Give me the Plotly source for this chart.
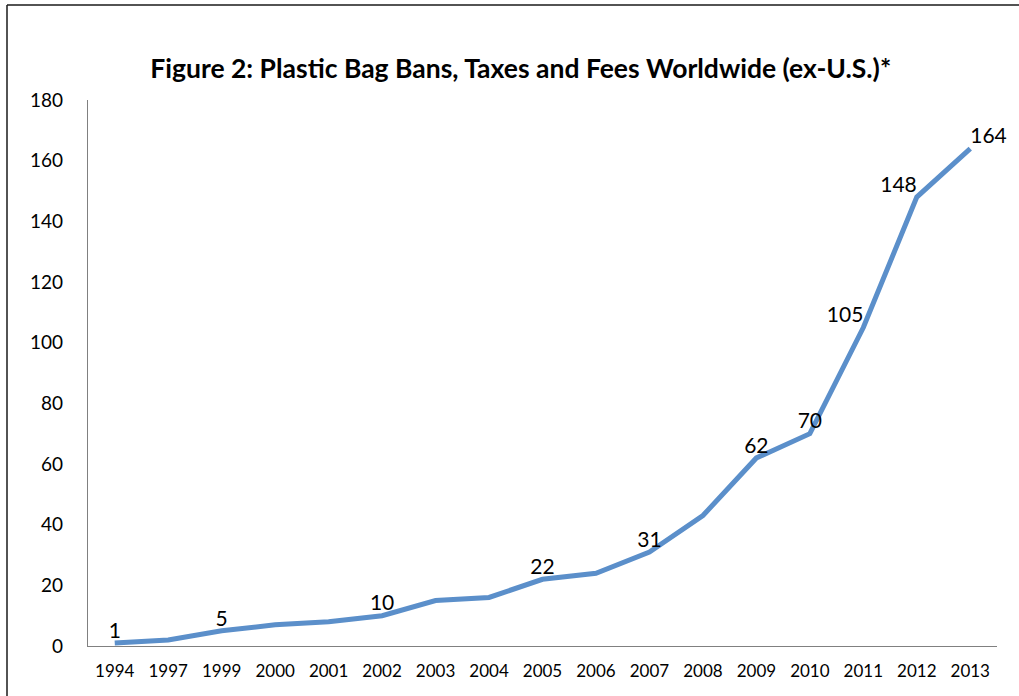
import plotly.graph_objects as go

years = ["1994", "1997", "1999", "2000", "2001", "2002", "2003", "2004", "2005",
         "2006", "2007", "2008", "2009", "2010", "2011", "2012", "2013"]
counts = [1, 2, 5, 7, 8, 10, 15, 16, 22, 24, 31, 43, 62, 70, 105, 148, 164]
labeled_years = ["1994", "1999", "2002", "2005", "2007", "2009", "2010", "2011", "2012", "2013"]
label_pos = {"2011": "top left", "2012": "top left", "2013": "top right"}

texts = [str(v) if y in labeled_years else "" for y, v in zip(years, counts)]
positions = [label_pos.get(y, "top center") for y in years]

FONT = "Lato"
W, H = 1019, 696
L, R, T, B = 88, 22, 100, 50
pw, ph = W - L - R, H - T - B

fig = go.Figure()
fig.add_trace(go.Scatter(
    x=years, y=counts, mode="lines+text",
    line=dict(color="#5B8FCA", width=5),
    text=texts, textposition=positions,
    textfont=dict(family=FONT, size=21, color="#000000"),
    cliponaxis=False, hoverinfo="x+y", showlegend=False,
))

def px_x(p):
    return (p - L) / pw

def px_y(p):
    return (H - B - p) / ph

fig.add_shape(type="line", xref="paper", yref="paper",
              x0=px_x(7), x1=px_x(1030), y0=px_y(5), y1=px_y(5),
              line=dict(color="#1a1a1a", width=1.5))
fig.add_shape(type="line", xref="paper", yref="paper",
              x0=px_x(7), x1=px_x(7), y0=px_y(5), y1=px_y(710),
              line=dict(color="#1a1a1a", width=1.5))

fig.update_layout(
    width=W, height=H,
    margin=dict(l=L, r=R, t=T, b=B),
    paper_bgcolor="white", plot_bgcolor="white",
    title=dict(text="<b>Figure 2: Plastic Bag Bans, Taxes and Fees Worldwide (ex-U.S.)*</b>",
               x=0.511, xanchor="center", y=1 - 69 / H, yanchor="middle",
               font=dict(family=FONT, size=26.5, color="#000000")),
    xaxis=dict(type="category", range=[-0.5, 16.5], showgrid=False,
               showline=True, linecolor="#808080", linewidth=1.3,
               ticks="", tickfont=dict(family=FONT, size=17, color="#000000"),
               ticklabelstandoff=9, zeroline=False, fixedrange=True),
    yaxis=dict(range=[0, 180], dtick=20, showgrid=False,
               showline=True, linecolor="#808080", linewidth=1.3,
               ticks="", tickfont=dict(family=FONT, size=19, color="#000000"),
               ticklabelstandoff=20, zeroline=False, fixedrange=True),
)

fig.write_html("out.html")
